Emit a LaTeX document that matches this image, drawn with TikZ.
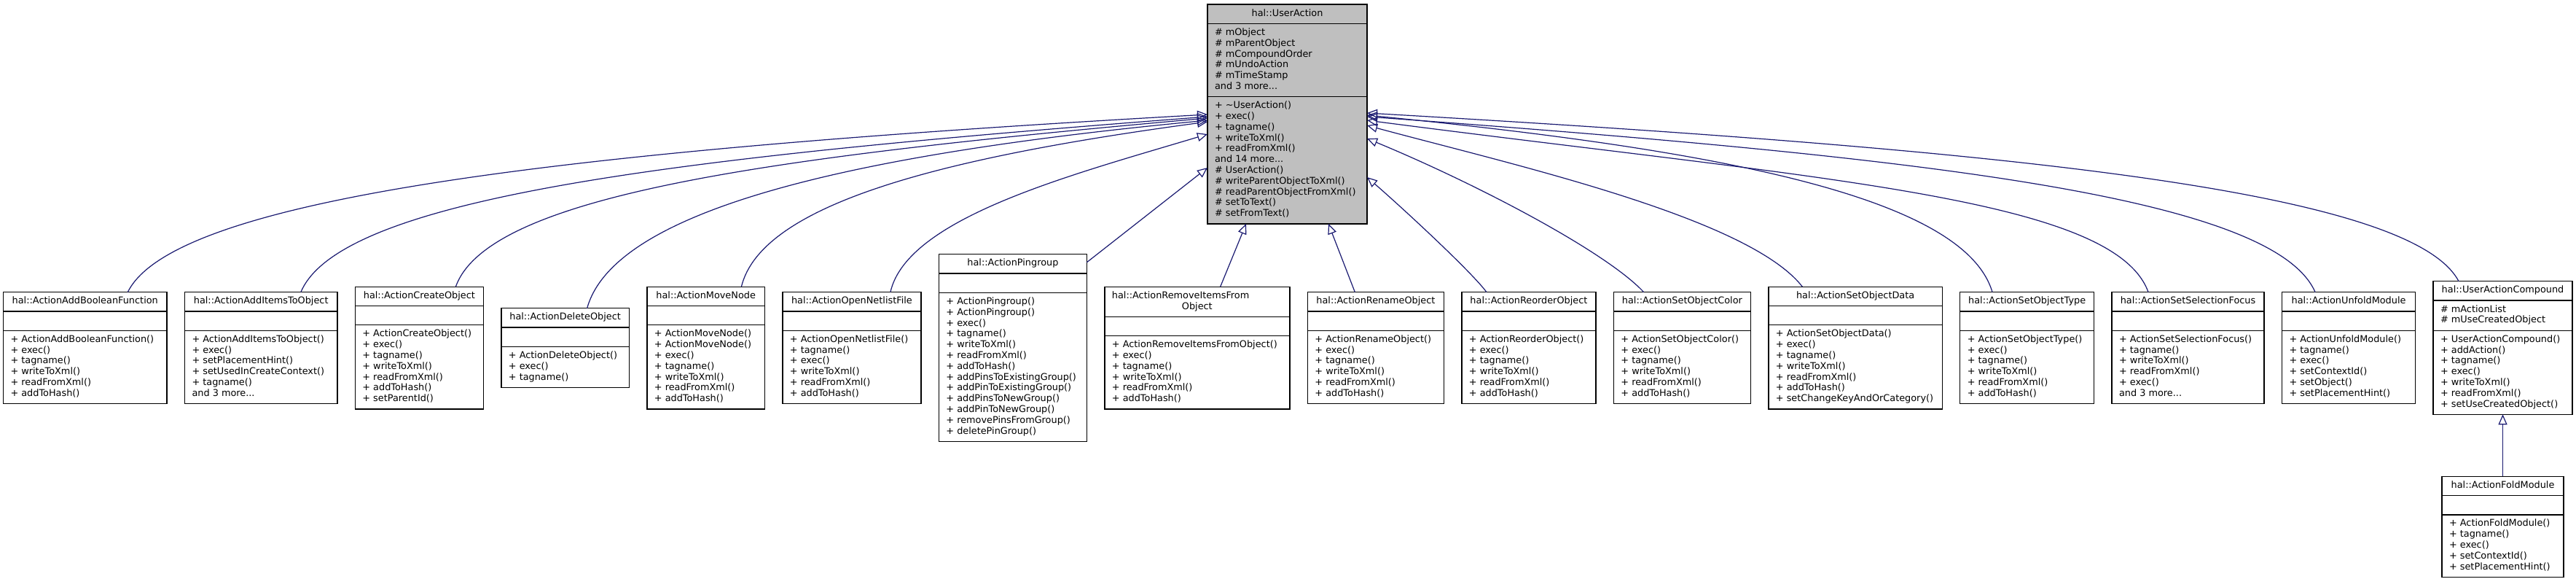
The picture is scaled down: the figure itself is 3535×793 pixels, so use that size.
\documentclass[tikz,border=0pt]{standalone}
\usepackage{fontspec}
\setmainfont{DejaVu Sans}
\usepackage{tikz}
\usetikzlibrary{arrows.meta,positioning,shapes.multipart}
\definecolor{EdgeBlue}{HTML}{191970}
\definecolor{BaseGrey}{HTML}{BFBFBF}
\newcommand{\umlfont}{\fontsize{12.85pt}{14.8pt}\selectfont}
\newcommand{\classbox}[3]{\strut#1\strut\nodepart{two}\strut#2\strut\rule{0.1pt}{0pt}\nodepart{three}\strut#3\strut}

\begin{document}
\begin{tikzpicture}[
  x=1pt, y=1pt,
  node distance=24.5pt,
  cls/.style={rectangle split, rectangle split parts=3,
    rectangle split part align={center,left,left},
    draw=black, line width=1.3pt, fill=white, font=\umlfont, align=left,
    inner xsep=10pt, inner ysep=5.1pt, outer sep=0pt},
  base/.style={cls, fill=BaseGrey},
  inh/.style={-{Triangle[open, length=14pt, width=12pt]}, draw=EdgeBlue, line width=1.2pt}
]
  \useasboundingbox (0,0) rectangle (3535,-793);

  \node[base, minimum width=219pt, anchor=north] (ua) at (1766.5,-6) {\classbox{hal::UserAction}%
    {\# mObject\\\# mParentObject\\\# mCompoundOrder\\\# mUndoAction\\\# mTimeStamp\\and 3 more...}%
    {+ \textasciitilde UserAction()\\+ exec()\\+ tagname()\\+ writeToXml()\\+ readFromXml()\\and 14 more...\\\# UserAction()\\\# writeParentObjectToXml()\\\# readParentObjectFromXml()\\\# setToText()\\\# setFromText()}};

  \node[cls, minimum width=224.5pt, anchor=west] (addbool) at (4.5,-477) {\classbox{hal::ActionAddBooleanFunction}{}%
    {+ ActionAddBooleanFunction()\\+ exec()\\+ tagname()\\+ writeToXml()\\+ readFromXml()\\+ addToHash()}};
  \node[cls, minimum width=209.4pt, right=of addbool] (additems) {\classbox{hal::ActionAddItemsToObject}{}%
    {+ ActionAddItemsToObject()\\+ exec()\\+ setPlacementHint()\\+ setUsedInCreateContext()\\+ tagname()\\and 3 more...}};
  \node[cls, minimum width=176pt, right=of additems] (create) {\classbox{hal::ActionCreateObject}{}%
    {+ ActionCreateObject()\\+ exec()\\+ tagname()\\+ writeToXml()\\+ readFromXml()\\+ addToHash()\\+ setParentId()}};
  \node[cls, minimum width=175.5pt, right=of create] (delete) {\classbox{hal::ActionDeleteObject}{}%
    {+ ActionDeleteObject()\\+ exec()\\+ tagname()}};
  \node[cls, minimum width=161.5pt, right=of delete] (move) {\classbox{hal::ActionMoveNode}{}%
    {+ ActionMoveNode()\\+ ActionMoveNode()\\+ exec()\\+ tagname()\\+ writeToXml()\\+ readFromXml()\\+ addToHash()}};
  \node[cls, minimum width=190pt, right=of move] (netlist) {\classbox{hal::ActionOpenNetlistFile}{}%
    {+ ActionOpenNetlistFile()\\+ tagname()\\+ exec()\\+ writeToXml()\\+ readFromXml()\\+ addToHash()}};
  \node[cls, minimum width=203pt, right=of netlist] (pingroup) {\classbox{hal::ActionPingroup}{}%
    {+ ActionPingroup()\\+ ActionPingroup()\\+ exec()\\+ tagname()\\+ writeToXml()\\+ readFromXml()\\+ addToHash()\\+ addPinsToExistingGroup()\\+ addPinToExistingGroup()\\+ addPinsToNewGroup()\\+ addPinToNewGroup()\\+ removePinsFromGroup()\\+ deletePinGroup()}};
  \node[cls, minimum width=254pt, right=of pingroup, rectangle split part align={left,left,left}] (remove) {\classbox{hal::ActionRemoveItemsFrom\\\hspace*{96pt}Object}{}%
    {+ ActionRemoveItemsFromObject()\\+ exec()\\+ tagname()\\+ writeToXml()\\+ readFromXml()\\+ addToHash()}};
  \node[cls, minimum width=187pt, right=of remove] (rename) {\classbox{hal::ActionRenameObject}{}%
    {+ ActionRenameObject()\\+ exec()\\+ tagname()\\+ writeToXml()\\+ readFromXml()\\+ addToHash()}};
  \node[cls, minimum width=184pt, right=of rename] (reorder) {\classbox{hal::ActionReorderObject}{}%
    {+ ActionReorderObject()\\+ exec()\\+ tagname()\\+ writeToXml()\\+ readFromXml()\\+ addToHash()}};
  \node[cls, minimum width=188pt, right=of reorder] (color) {\classbox{hal::ActionSetObjectColor}{}%
    {+ ActionSetObjectColor()\\+ exec()\\+ tagname()\\+ writeToXml()\\+ readFromXml()\\+ addToHash()}};
  \node[cls, minimum width=238.4pt, right=of color] (data) {\classbox{hal::ActionSetObjectData}{}%
    {+ ActionSetObjectData()\\+ exec()\\+ tagname()\\+ writeToXml()\\+ readFromXml()\\+ addToHash()\\+ setChangeKeyAndOrCategory()}};
  \node[cls, minimum width=183.7pt, right=of data] (type) {\classbox{hal::ActionSetObjectType}{}%
    {+ ActionSetObjectType()\\+ exec()\\+ tagname()\\+ writeToXml()\\+ readFromXml()\\+ addToHash()}};
  \node[cls, minimum width=209pt, right=of type] (focus) {\classbox{hal::ActionSetSelectionFocus}{}%
    {+ ActionSetSelectionFocus()\\+ tagname()\\+ writeToXml()\\+ readFromXml()\\+ exec()\\and 3 more...}};
  \node[cls, minimum width=183pt, right=of focus] (unfold) {\classbox{hal::ActionUnfoldModule}{}%
    {+ ActionUnfoldModule()\\+ tagname()\\+ exec()\\+ setContextId()\\+ setObject()\\+ setPlacementHint()}};
  \node[cls, minimum width=191pt, right=of unfold] (compound) {\classbox{hal::UserActionCompound}%
    {\# mActionList\\\# mUseCreatedObject}%
    {+ UserActionCompound()\\+ addAction()\\+ tagname()\\+ exec()\\+ writeToXml()\\+ readFromXml()\\+ setUseCreatedObject()}};
  \node[cls, minimum width=167pt, below=85pt of compound] (fold) {\classbox{hal::ActionFoldModule}{}%
    {+ ActionFoldModule()\\+ tagname()\\+ exec()\\+ setContextId()\\+ setPlacementHint()}};

  \draw[inh] ([xshift=58.6pt]addbool.north) .. controls +(65,132) and +(-857,-48) .. ([yshift=-151pt]ua.north west);
  \draw[inh] ([xshift=54.7pt]additems.north) .. controls +(55,131) and +(-721,-55) .. ([yshift=-154pt]ua.north west);
  \draw[inh] ([xshift=50pt]create.north) .. controls +(45,126) and +(-598,-53) .. ([yshift=-156pt]ua.north west);
  \draw[inh] ([xshift=30pt]delete.north) .. controls +(37,134) and +(-494,-47) .. ([yshift=-159pt]ua.north west);
  \draw[inh] ([xshift=48.75pt]move.north) .. controls +(28,115) and +(-357,-48) .. ([yshift=-161pt]ua.north west);
  \draw[inh] ([xshift=53pt]netlist.north) .. controls +(23,102) and +(-187,-56) .. ([yshift=-178pt]ua.north west);
  \draw[inh] ([yshift=-11pt]pingroup.north east) -- ([yshift=-224pt]ua.north west);
  \draw[inh] ([xshift=31.75pt]remove.north) -- ([xshift=-56.5pt]ua.south);
  \draw[inh] ([xshift=-28.6pt]rename.north) -- ([xshift=56.5pt]ua.south);
  \draw[inh] ([xshift=-58pt]reorder.north) .. controls +(-20,27) and +(54,-47) .. ([yshift=-237pt]ua.north east);
  \draw[inh] ([xshift=-52.85pt]color.north) .. controls +(-51,55) and +(150,-62) .. ([yshift=-184pt]ua.north east);
  \draw[inh] ([xshift=-72.8pt]data.north) .. controls +(-74,95) and +(200,-54) .. ([yshift=-166pt]ua.north east);
  \draw[inh] ([xshift=-47.65pt]type.north) .. controls +(-38,128) and +(498,-49) .. ([yshift=-152pt]ua.north east);
  \draw[inh] ([xshift=-54.5pt]focus.north) .. controls +(-47,130) and +(622,-81) .. ([yshift=-159pt]ua.north east);
  \draw[inh] ([xshift=-46pt]unfold.north) .. controls +(-57.5,132) and +(755,-55) .. ([yshift=-154pt]ua.north east);
  \draw[inh] ([xshift=-60.5pt]compound.north) .. controls +(-66,126) and +(868,-50) .. ([yshift=-149pt]ua.north east);
  \draw[inh] (fold) -- (compound);
\end{tikzpicture}
\end{document}
